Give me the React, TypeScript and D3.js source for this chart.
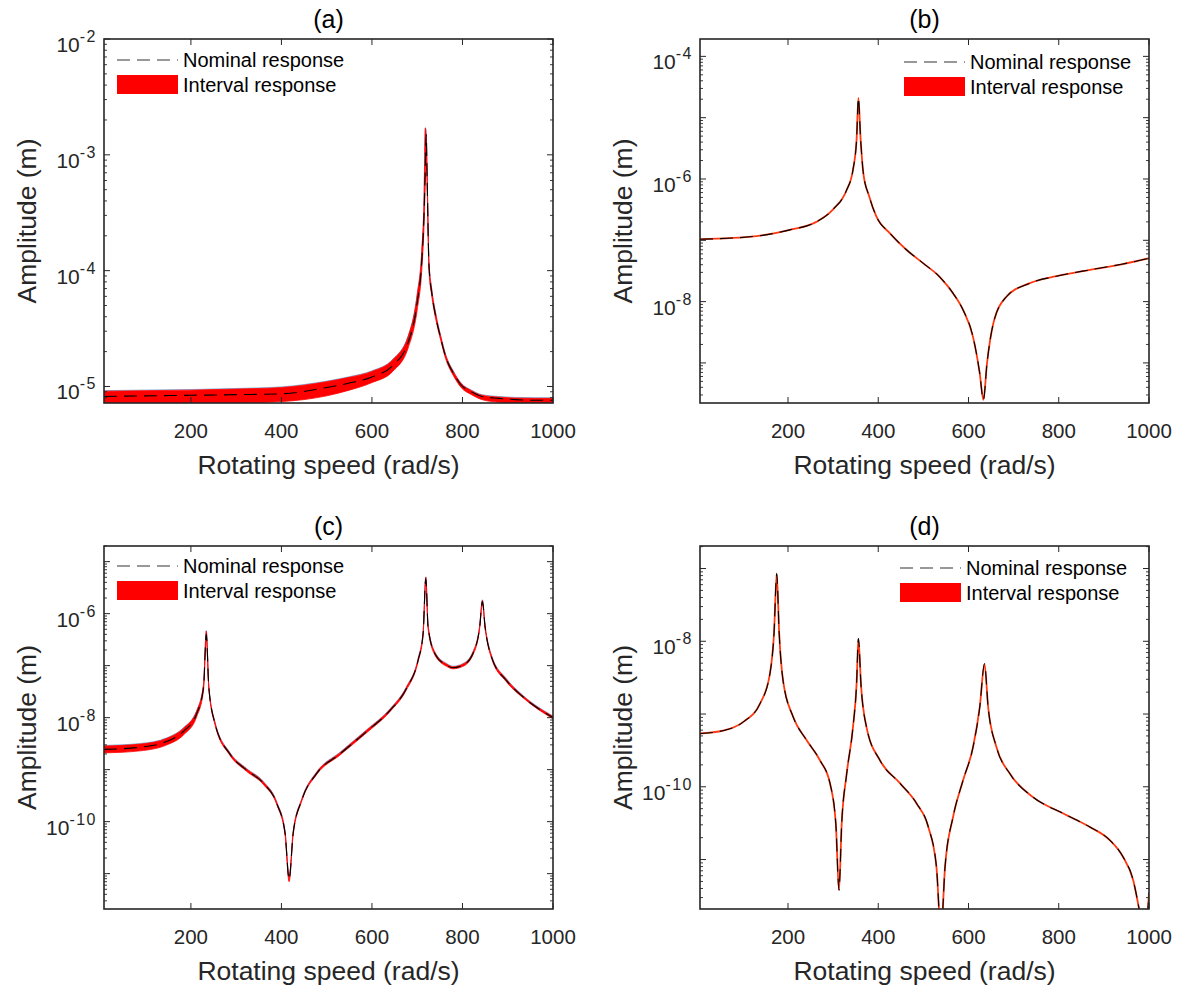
import * as d3 from "d3";

// rotating speed (rad/s) and amplitudes (m)
const aSpeed = [8, 100, 200, 300, 400, 500, 550, 600, 646, 680, 700, 710, 715, 718, 720, 722, 726, 732, 741, 752, 763, 780, 797, 820, 843, 880, 917, 960, 1000];
const aNominal = [8.2e-6, 8.3e-6, 8.4e-6, 8.5e-6, 8.65e-6, 9.8e-6, 1.07e-5, 1.21e-5, 1.52e-5, 2.4e-5, 5.3e-5, 1.2e-4, 3e-4, 8e-4, 1.5e-3, 6e-4, 1.1e-4, 6.5e-5, 4e-5, 2.6e-5, 1.8e-5, 1.3e-5, 1.03e-5, 9.0e-6, 8.2e-6, 7.9e-6, 7.7e-6, 7.6e-6, 7.6e-6];
const aUpper = [9.1e-6, 9.2e-6, 9.3e-6, 9.5e-6, 9.8e-6, 1.1e-5, 1.2e-5, 1.35e-5, 1.7e-5, 2.7e-5, 6.2e-5, 1.45e-4, 4e-4, 1.7e-3, 1.4e-3, 6.5e-4, 1.2e-4, 6.9e-5, 4.2e-5, 2.7e-5, 1.86e-5, 1.34e-5, 1.06e-5, 9.2e-6, 8.4e-6, 8.1e-6, 7.95e-6, 7.9e-6, 7.9e-6];
const aLower = [6.9e-6, 7.0e-6, 7.1e-6, 7.2e-6, 7.4e-6, 8.3e-6, 9.3e-6, 1.08e-5, 1.35e-5, 2.15e-5, 4.6e-5, 1.0e-4, 2.4e-4, 6e-4, 1.1e-3, 5.4e-4, 1.0e-4, 6.1e-5, 3.8e-5, 2.5e-5, 1.73e-5, 1.24e-5, 9.8e-6, 8.5e-6, 7.7e-6, 7.3e-6, 7.05e-6, 6.95e-6, 6.95e-6];

const bSpeed = [5, 130, 204, 263, 300, 330, 344, 352, 356, 361, 367, 380, 396, 426, 463, 500, 536, 566, 588, 610, 625, 633, 641, 655, 684, 736, 795, 869, 942, 1000];
const bNominal = [1.04e-7, 1.17e-7, 1.48e-7, 2.0e-7, 3.2e-7, 6.6e-7, 1.41e-6, 4.4e-6, 2.1e-5, 4.4e-6, 1.24e-6, 5.2e-7, 2.43e-7, 1.30e-7, 6.95e-8, 4.2e-8, 2.54e-8, 1.36e-8, 7.3e-9, 2.66e-9, 6.7e-10, 2.5e-10, 9.8e-10, 4.4e-9, 1.2e-8, 2.0e-8, 2.6e-8, 3.3e-8, 4.1e-8, 5.1e-8];

const cSpeed = [8, 88, 147, 183, 213, 228, 234, 239.5, 253, 286, 323, 360, 390, 408, 417, 426, 445, 478, 529, 588, 640, 676, 702, 713, 719, 724, 739, 765, 779, 801, 823, 838, 844, 850, 864, 897, 934, 1000];
const cNominal = [2.45e-9, 2.7e-9, 3.5e-9, 5.4e-9, 1.2e-8, 3.9e-8, 4.0e-7, 3.9e-8, 7.8e-9, 2.0e-9, 9.8e-10, 5.5e-10, 2.2e-10, 6.0e-11, 7.8e-12, 6.0e-11, 2.6e-10, 8.5e-10, 2.0e-9, 5.4e-9, 1.38e-8, 3.6e-8, 1.27e-7, 4.1e-7, 4.7e-6, 5.5e-7, 1.7e-7, 1.02e-7, 9.1e-8, 1.02e-7, 1.7e-7, 5.5e-7, 1.7e-6, 5.5e-7, 1.47e-7, 5.2e-8, 2.5e-8, 1.0e-8];
const cUpper = [2.85e-9, 3.1e-9, 4.0e-9, 6.2e-9, 1.35e-8, 4.4e-8, 4.6e-7, 4.1e-8, 8.2e-9, 2.1e-9, 1.03e-9, 5.8e-10, 2.3e-10, 6.4e-11, 8.5e-12, 6.4e-11, 2.7e-10, 8.9e-10, 2.1e-9, 5.7e-9, 1.45e-8, 3.8e-8, 1.34e-7, 4.4e-7, 5.0e-6, 5.9e-7, 1.8e-7, 1.07e-7, 9.5e-8, 1.07e-7, 1.8e-7, 5.8e-7, 1.8e-6, 5.8e-7, 1.55e-7, 5.5e-8, 2.6e-8, 1.05e-8];
const cLower = [2.1e-9, 2.3e-9, 3.0e-9, 4.6e-9, 1.05e-8, 3.4e-8, 3.4e-7, 3.7e-8, 7.4e-9, 1.9e-9, 9.3e-10, 5.2e-10, 2.1e-10, 5.6e-11, 7.0e-12, 5.6e-11, 2.5e-10, 8.1e-10, 1.9e-9, 5.1e-9, 1.31e-8, 3.4e-8, 1.2e-7, 3.8e-7, 4.3e-6, 5.1e-7, 1.6e-7, 9.7e-8, 8.7e-8, 9.7e-8, 1.6e-7, 5.2e-7, 1.6e-6, 5.2e-7, 1.4e-7, 4.9e-8, 2.4e-8, 9.5e-9];

const dSpeed = [5, 56, 101, 138, 160, 169, 175, 180.5, 189, 211.5, 241, 271, 293, 306, 313, 319, 330, 344, 352, 356, 362, 374, 404, 448, 485, 511, 529, 539, 548, 566, 588, 610, 625, 635.5, 643.5, 662, 691.5, 743, 810, 869, 913, 942, 965, 980, 990, 1000];
const dNominal = [5.4e-10, 5.9e-10, 7.8e-10, 1.39e-9, 3.6e-9, 1.28e-8, 8.5e-8, 1.28e-8, 2.9e-9, 9.1e-10, 4.4e-10, 2.3e-10, 1.12e-10, 3.1e-11, 3.8e-12, 3.1e-11, 1.5e-10, 6.6e-10, 2.6e-9, 1.09e-8, 2.4e-9, 6.6e-10, 2.3e-10, 1.12e-10, 5.9e-11, 2.8e-11, 7.9e-12, 1.0e-12, 7.9e-12, 3.9e-11, 1.23e-10, 3.5e-10, 1.25e-9, 4.9e-9, 1.25e-9, 3.5e-10, 1.52e-10, 7.2e-11, 4.3e-11, 2.8e-11, 1.85e-11, 1.1e-11, 5.2e-12, 1.8e-12, 8e-13, 3.5e-12];

const xTicks = [200, 400, 600, 800, 1000];
const legendLabels = ["Nominal response", "Interval response"];
const titles = ["(a)", "(b)", "(c)", "(d)"];
const aExps = [-2, -3, -4, -5];
const bExps = [-4, -6, -8];
const cExps = [-6, -8, -10];
const dExps = [-8, -10];

const FONT = "'Liberation Sans', Arial, Helvetica, sans-serif";
const INK = "#262626";
const DASH = "13 7";

const panels = [
  { id: "a", title: titles[0], speed: aSpeed, nominal: aNominal, upper: aUpper, lower: aLower, exps: aExps,
    xMin: 8, yDomain: [7.2e-6, 1e-2], box: { l: 104, r: 553, t: 39, b: 403 }, leg: { x: 117, y: 60 } },
  { id: "b", title: titles[1], speed: bSpeed, nominal: bNominal, upper: null, lower: null, exps: bExps,
    xMin: 5, yDomain: [2.22e-10, 1.92e-4], box: { l: 700, r: 1149, t: 39, b: 403 }, leg: { x: 904, y: 62 } },
  { id: "c", title: titles[2], speed: cSpeed, nominal: cNominal, upper: cUpper, lower: cLower, exps: cExps,
    xMin: 8, yDomain: [2.09e-12, 2.0e-5], box: { l: 104, r: 553, t: 546, b: 909 }, leg: { x: 117, y: 566 } },
  { id: "d", title: titles[3], speed: dSpeed, nominal: dNominal, upper: null, lower: null, exps: dExps,
    xMin: 5, yDomain: [2.09e-12, 2.04e-7], box: { l: 700, r: 1149, t: 546, b: 909 }, leg: { x: 900, y: 568 } },
];

function Panel({ p }: { p: any }) {
  const { l, r, t, b } = p.box;
  const x = d3.scaleLinear().domain([p.xMin, 1000]).range([l, r]);
  const y = d3.scaleLog().domain(p.yDomain).range([b, t]);

  const line = d3.line<number>()
    .x((d, i) => x(p.speed[i]))
    .y(d => y(d))
    .curve(d3.curveMonotoneX);

  let bandPath: string | null = null;
  if (p.upper) {
    const area = d3.area<number>()
      .x((d, i) => x(p.speed[i]))
      .y0((d, i) => y(p.lower[i]))
      .y1(d => y(d))
      .curve(d3.curveMonotoneX);
    bandPath = area(p.upper);
  }

  // log ticks: majors every decade, minors 2..9
  const [y0, y1] = p.yDomain;
  const majors: number[] = [];
  const minors: number[] = [];
  for (let e = Math.floor(Math.log10(y0)); e <= Math.ceil(Math.log10(y1)); e++) {
    const v = Math.pow(10, e);
    if (v >= y0 && v <= y1) majors.push(v);
    for (let m = 2; m <= 9; m++) {
      const mv = m * v;
      if (mv >= y0 && mv <= y1) minors.push(mv);
    }
  }

  const clipId = "clip-" + p.id;
  const cx = (l + r) / 2;
  const cy = (t + b) / 2;

  return (
    <g>
      <defs>
        <clipPath id={clipId}>
          <rect x={l} y={t} width={r - l} height={b - t} />
        </clipPath>
      </defs>

      <g clipPath={`url(#${clipId})`}>
        {bandPath && (
          <path d={line(p.upper) || ""} fill="none" stroke="#5b9bd5" strokeOpacity={0.75} strokeWidth={1} transform="translate(0,-0.6)" />
        )}
        {bandPath && <path d={bandPath} fill="#ff0000" stroke="#ff0000" strokeWidth={0.8} />}
        {!bandPath && <path d={line(p.nominal) || ""} fill="none" stroke="#ff3a10" strokeWidth={1.8} />}
        <path d={line(p.nominal) || ""} fill="none" stroke="#000" strokeWidth={1.1} strokeDasharray={DASH} />
      </g>

      {/* y ticks both sides */}
      {majors.map(v => (
        <g key={"M" + v}>
          <line x1={l} x2={l + 6} y1={y(v)} y2={y(v)} stroke={INK} strokeWidth={1} />
          <line x1={r} x2={r - 6} y1={y(v)} y2={y(v)} stroke={INK} strokeWidth={1} />
        </g>
      ))}
      {minors.map(v => (
        <g key={"m" + v}>
          <line x1={l} x2={l + 3} y1={y(v)} y2={y(v)} stroke={INK} strokeWidth={0.9} />
          <line x1={r} x2={r - 3} y1={y(v)} y2={y(v)} stroke={INK} strokeWidth={0.9} />
        </g>
      ))}
      {p.exps.map((e: number) => {
        const yy = y(Math.pow(10, e));
        return (
          <text key={"l" + e} x={l - 7} y={yy + 13} textAnchor="end" fontSize={21} fill={INK} fontFamily={FONT}>
            10<tspan dy={-10} fontSize={16} letterSpacing={1.5}>{String(e)}</tspan>
          </text>
        );
      })}

      {/* x ticks top and bottom */}
      {xTicks.map(v => (
        <g key={"x" + v}>
          <line x1={x(v)} x2={x(v)} y1={b} y2={b - 6} stroke={INK} strokeWidth={1} />
          <line x1={x(v)} x2={x(v)} y1={t} y2={t + 6} stroke={INK} strokeWidth={1} />
          <text x={x(v)} y={b + 35} textAnchor="middle" fontSize={20.5} fill={INK} fontFamily={FONT}>{v}</text>
        </g>
      ))}

      <rect x={l} y={t} width={r - l} height={b - t} fill="none" stroke={INK} strokeWidth={1.6} />

      <text x={cx} y={t - 11} textAnchor="middle" fontSize={25} fill="#000" fontFamily={FONT}>{p.title}</text>
      <text x={cx} y={b + 71} textAnchor="middle" fontSize={26.5} fill={INK} fontFamily={FONT}>Rotating speed (rad/s)</text>
      <text transform={`translate(${l - 68},${cy}) rotate(-90)`} textAnchor="middle" fontSize={26.5} fill={INK} fontFamily={FONT}>
        Amplitude (m)
      </text>

      {/* legend */}
      <line x1={p.leg.x} x2={p.leg.x + 61} y1={p.leg.y} y2={p.leg.y} stroke="#333" strokeWidth={1.1} strokeDasharray={DASH} />
      <text x={p.leg.x + 66} y={p.leg.y + 7} fontSize={20} fill="#000" fontFamily={FONT}>{legendLabels[0]}</text>
      <rect x={p.leg.x} y={p.leg.y + 15} width={61} height={19} fill="#ff0000" />
      <text x={p.leg.x + 66} y={p.leg.y + 32} fontSize={20} fill="#000" fontFamily={FONT}>{legendLabels[1]}</text>
    </g>
  );
}

export default function App() {
  return (
    <svg width={1186} height={992} style={{ position: "absolute", left: 0, top: 0, background: "#fff" }}>
      <rect width={1186} height={992} fill="#fff" />
      {panels.map(p => <Panel key={p.id} p={p} />)}
    </svg>
  );
}
